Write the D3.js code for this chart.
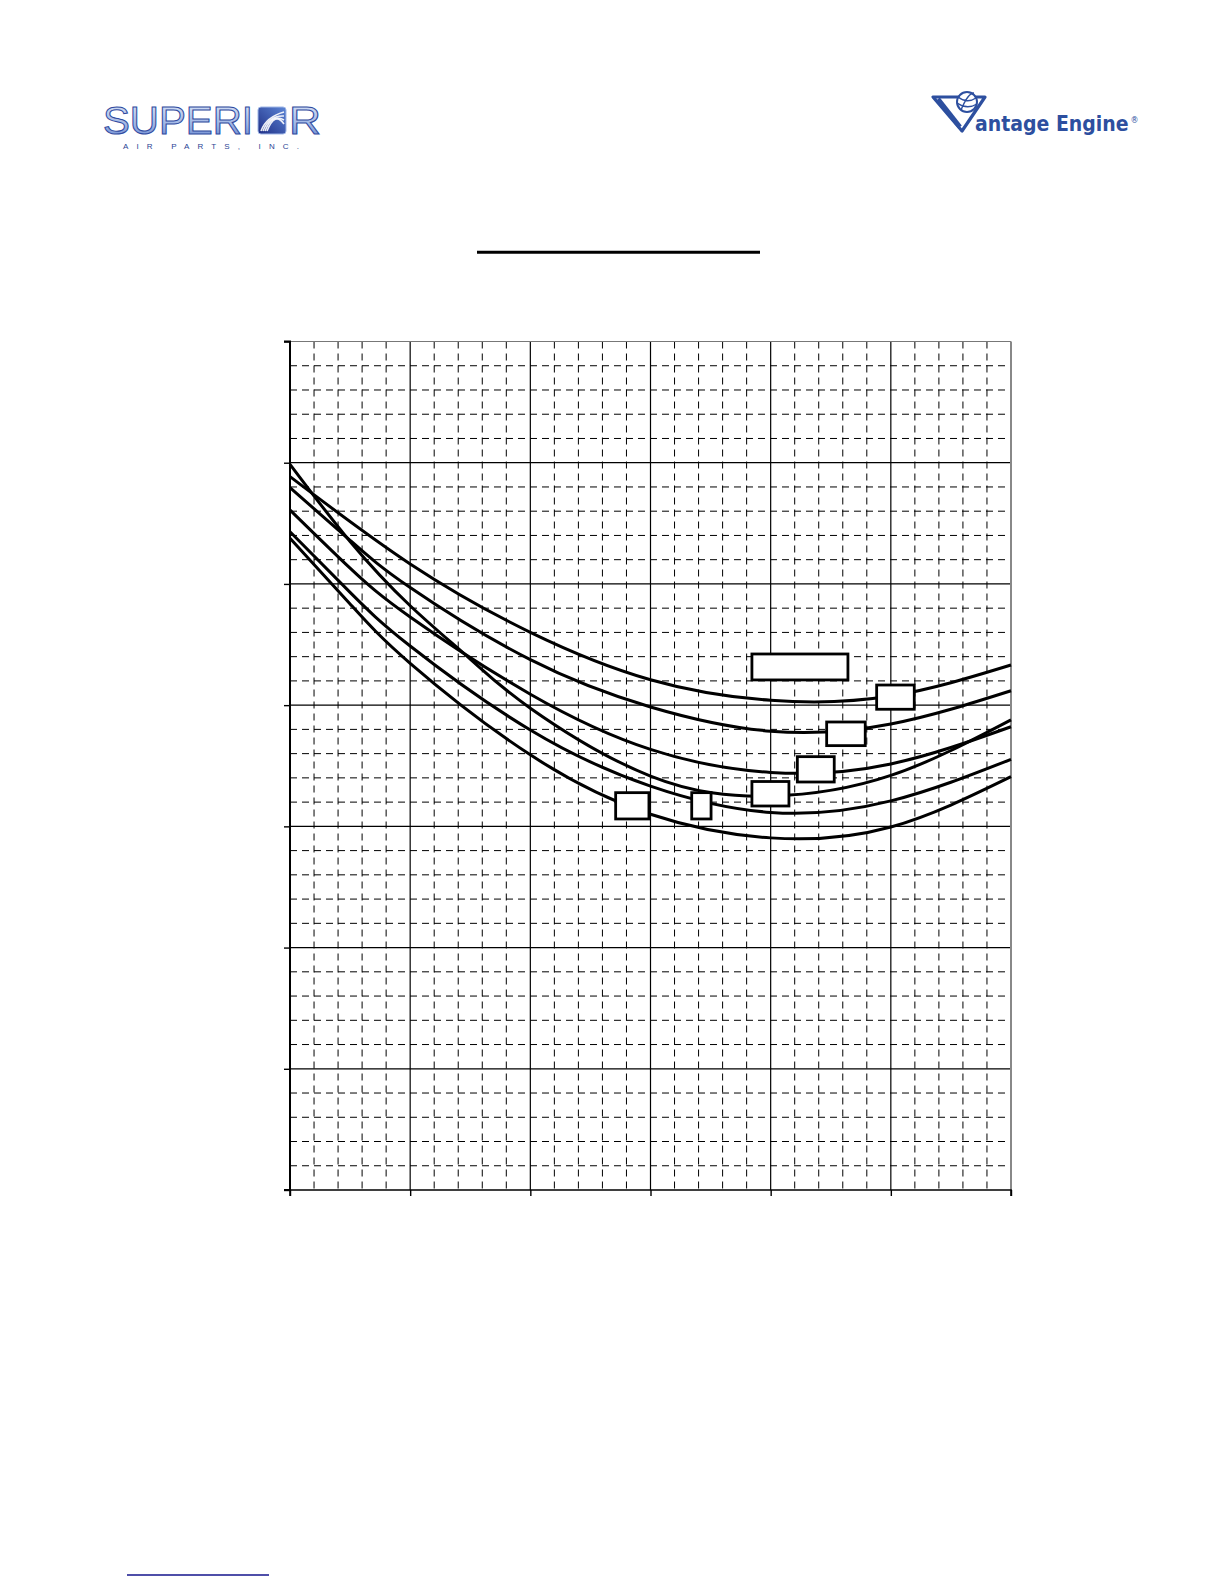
<!DOCTYPE html>
<html><head><meta charset="utf-8">
<script src="https://cdn.jsdelivr.net/npm/d3@7"></script>
<style>html,body{margin:0;padding:0;background:#fff;} svg{display:block;}</style>
</head><body>
<script>
// ---- axis ticks (no printed labels in the reference) ----
const xMajorTicks = [0, 10, 20, 30, 40, 50, 60];
const yMajorTicks = [0, 10, 20, 30, 40, 50, 60, 70];
const xMinorTicks = d3.range(0, 60.001, 2).filter(v => v % 10 !== 0);
const yMinorTicks = d3.range(0, 70.001, 2).filter(v => v % 10 !== 0);

// ---- series (x, y) ----
const curve1 = [[0,58.85],[10,51.65],[20,46.01],[30,42.10],[40,40.40],[50,40.75],[60,43.31]];
const curve2 = [[0,57.94],[5,53.60],[10,49.70],[20,43.75],[30,39.85],[40,37.85],[50,38.45],[60,41.19]];
const curve3 = [[0,56.10],[5,51.30],[10,47.27],[20,40.90],[30,36.35],[40,34.45],[50,35.15],[60,38.22]];
const curve4 = [[0,59.87],[5,53.50],[10,48.20],[15,43.80],[20,39.75],[30,34.15],[40,32.50],[50,34.20],[60,38.78]];
const curve5 = [[0,54.31],[5,49.30],[10,44.88],[20,37.95],[30,33.32],[40,31.15],[50,32.10],[60,35.53]];
const curve6 = [[0,53.77],[5,48.35],[10,43.45],[20,35.90],[30,31.00],[40,29.05],[50,29.95],[60,34.10]];
const curves = [curve1, curve2, curve3, curve4, curve5, curve6];

// ---- empty label boxes (x0, x1, y0, y1 in data units) ----
const labelBoxes = [
  [38.44, 46.43, 42.08, 44.22],
  [48.82, 51.95, 39.66, 41.66],
  [44.66, 47.87, 36.66, 38.61],
  [42.22, 45.29, 33.66, 35.75],
  [38.44, 41.52, 31.68, 33.70],
  [33.43, 35.04, 30.61, 32.78],
  [27.10, 29.87, 30.61, 32.78]
];

const W = 1224, H = 1584;
const svg = d3.select("body").append("svg").attr("width", W).attr("height", H);
svg.append("rect").attr("width", W).attr("height", H).attr("fill", "#fff");

const L = 290, R = 1011, T = 341.5, B = 1190;
const x = d3.scaleLinear().domain([0, 60]).range([L, R]);
const y = d3.scaleLinear().domain([0, 70]).range([B, T]);

// ---------- header logos ----------
const defs = svg.append("defs");
const g1 = defs.append("linearGradient").attr("id","supGrad").attr("x1","0").attr("y1","0").attr("x2","0").attr("y2","1");
g1.append("stop").attr("offset","0%").attr("stop-color","#dfe8f8");
g1.append("stop").attr("offset","60%").attr("stop-color","#9db4e4");
g1.append("stop").attr("offset","100%").attr("stop-color","#5f7fcc");
const g2 = defs.append("linearGradient").attr("id","iconGrad").attr("x1","0").attr("y1","1").attr("x2","1").attr("y2","0");
g2.append("stop").attr("offset","0%").attr("stop-color","#1f2f86");
g2.append("stop").attr("offset","100%").attr("stop-color","#5d86d6");

const sup = svg.append("g");
sup.append("text").attr("x",103).attr("y",134).attr("font-family","Liberation Sans, Arial, sans-serif")
  .attr("font-size",38).attr("textLength",150).attr("lengthAdjust","spacingAndGlyphs")
  .attr("fill","url(#supGrad)").attr("stroke","#2f4aa0").attr("stroke-width",1).text("SUPERI");
sup.append("rect").attr("x",258).attr("y",107).attr("width",28).attr("height",27).attr("rx",3)
  .attr("fill","url(#iconGrad)").attr("stroke","#9fb6e6").attr("stroke-width",1);
[0,1,2,3].forEach(i=>{
  sup.append("path").attr("d",`M${261+i*2},${131} Q${266+i*3},${117-i*2} ${284},${112+i*4}`)
    .attr("fill","none").attr("stroke","#fff").attr("stroke-width",1.6).attr("opacity",0.9);
});
sup.append("text").attr("x",289).attr("y",134).attr("font-family","Liberation Sans, Arial, sans-serif")
  .attr("font-size",38).attr("textLength",32).attr("lengthAdjust","spacingAndGlyphs")
  .attr("fill","url(#supGrad)").attr("stroke","#2f4aa0").attr("stroke-width",1).text("R");
sup.append("text").attr("x",123).attr("y",149).attr("font-family","Liberation Sans, Arial, sans-serif")
  .attr("font-size",8).attr("textLength",176).attr("lengthAdjust","spacing")
  .attr("fill","#2b4494").text("AIR PARTS, INC.");

const van = svg.append("g");
van.append("path").attr("d","M933,97 L985,97 L962,131 Z").attr("fill","none").attr("stroke","#2d4f9f").attr("stroke-width",3.2).attr("stroke-linejoin","round");
van.append("path").attr("d","M938,99 L960,127").attr("stroke","#2d4f9f").attr("stroke-width",4.5);
van.append("circle").attr("cx",967).attr("cy",102).attr("r",10).attr("fill","#fff").attr("stroke","#2d4f9f").attr("stroke-width",2);
van.append("path").attr("d","M958,97 Q967,104 976,98 M957,103 Q967,110 977,104 M961,110 Q968,93 974,93").attr("fill","none").attr("stroke","#2d4f9f").attr("stroke-width",1.4);
const vt = van.append("text").attr("x",975).attr("y",131)
  .attr("font-family","DejaVu Sans Condensed, Liberation Sans Narrow, DejaVu Sans, sans-serif")
  .attr("font-stretch","condensed").attr("font-size",21).attr("font-weight","bold")
  .attr("fill","#2d4f9f").text("antage Engine");
let vw = vt.node().getComputedTextLength();
if (vw > 160) { vt.attr("font-size", 21 * 160 / vw); vw = vt.node().getComputedTextLength(); }
van.append("text").attr("x",975 + vw + 2).attr("y",123).attr("font-family","DejaVu Sans, sans-serif")
  .attr("font-size",8).attr("fill","#2d4f9f").text("®");

// title underline (title text itself is absent in the reference)
svg.append("line").attr("x1",477).attr("x2",760).attr("y1",252.3).attr("y2",252.3).attr("stroke","#000").attr("stroke-width",3);

// ---------- grid ----------
const grid = svg.append("g");
grid.selectAll("line.vmin").data(xMinorTicks).join("line")
  .attr("x1", d => x(d)).attr("x2", d => x(d)).attr("y1", T).attr("y2", B)
  .attr("stroke", "#000").attr("stroke-width", 1).attr("stroke-dasharray", "7,5");
grid.selectAll("line.hmin").data(yMinorTicks).join("line")
  .attr("x1", L).attr("x2", R).attr("y1", d => y(d)).attr("y2", d => y(d))
  .attr("stroke", "#000").attr("stroke-width", 1).attr("stroke-dasharray", "7,5");
grid.selectAll("line.vmaj").data(xMajorTicks.slice(1, -1)).join("line")
  .attr("x1", d => x(d)).attr("x2", d => x(d)).attr("y1", T).attr("y2", B)
  .attr("stroke", "#000").attr("stroke-width", 1.2);
grid.selectAll("line.hmaj").data(yMajorTicks.slice(1, -1)).join("line")
  .attr("x1", L).attr("x2", R).attr("y1", d => y(d)).attr("y2", d => y(d))
  .attr("stroke", "#000").attr("stroke-width", 1.2);
// top and right border
svg.append("line").attr("x1",L).attr("x2",R).attr("y1",T).attr("y2",T).attr("stroke","#777").attr("stroke-width",1.2);
svg.append("line").attr("x1",R).attr("x2",R).attr("y1",T).attr("y2",B).attr("stroke","#888").attr("stroke-width",2);

// axes
const yAxis = d3.axisLeft(y).tickValues(yMajorTicks).tickSize(6).tickFormat("");
const xAxis = d3.axisBottom(x).tickValues(xMajorTicks).tickSize(6).tickFormat("");
const ya = svg.append("g").attr("transform", `translate(${L},0)`).call(yAxis);
ya.select(".domain").attr("stroke-width", 2).attr("d", `M-6,${T}H0V${B}H-6`);
ya.selectAll(".tick line").attr("stroke-width", 1.4);
const xa = svg.append("g").attr("transform", `translate(0,${B})`).call(xAxis);
xa.select(".domain").attr("stroke-width", 1.6).attr("d", `M${L},6V0H${R}V6`);
xa.selectAll(".tick line").attr("stroke-width", 1.4);

// ---------- curves ----------
const line = d3.line().x(d => x(d[0])).y(d => y(d[1])).curve(d3.curveNatural);
svg.append("g").selectAll("path").data(curves).join("path")
  .attr("d", line).attr("fill", "none").attr("stroke", "#000").attr("stroke-width", 3);

// ---------- empty label boxes ----------
svg.append("g").selectAll("rect").data(labelBoxes).join("rect")
  .attr("x", d => x(d[0])).attr("width", d => x(d[1]) - x(d[0]))
  .attr("y", d => y(d[3])).attr("height", d => y(d[2]) - y(d[3]))
  .attr("fill", "#fff").attr("stroke", "#000").attr("stroke-width", 2.8);

// footer rule
svg.append("line").attr("x1",127).attr("x2",269).attr("y1",1575).attr("y2",1575).attr("stroke","#14148c").attr("stroke-width",1.6);
</script>
</body></html>
